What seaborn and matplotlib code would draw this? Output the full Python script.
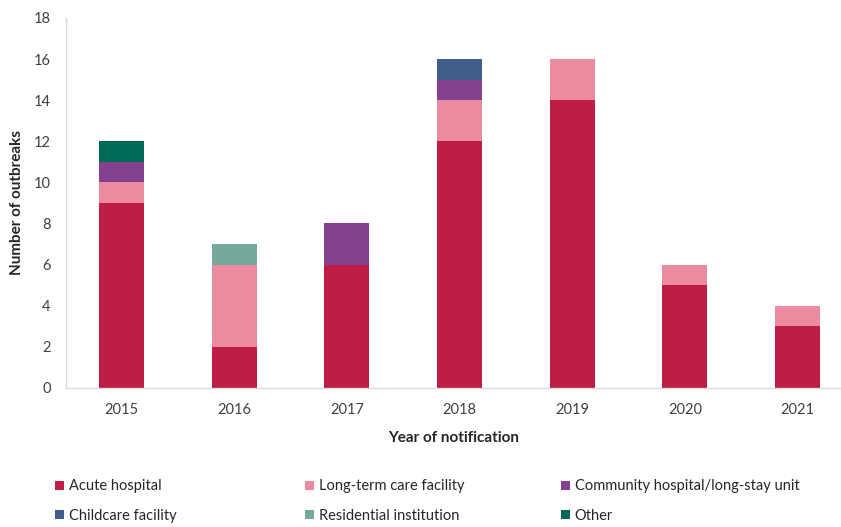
import matplotlib
matplotlib.use("Agg")
import matplotlib.pyplot as plt
import seaborn as sns
import pandas as pd
import numpy as np
from matplotlib.patches import Patch

years = ["2015", "2016", "2017", "2018", "2019", "2020", "2021"]
acute = [9, 2, 6, 12, 14, 5, 3]
longterm = [1, 4, 0, 2, 2, 1, 1]
community = [1, 0, 2, 1, 0, 0, 0]
childcare = [0, 0, 0, 1, 0, 0, 0]
residential = [0, 1, 0, 0, 0, 0, 0]
other = [1, 0, 0, 0, 0, 0, 0]

series_names = ["Acute hospital", "Long-term care facility", "Community hospital/long-stay unit",
                "Childcare facility", "Residential institution", "Other"]
series_vals = [acute, longterm, community, childcare, residential, other]
colors = ["#BE1E45", "#EC8BA0", "#83418F", "#3F5F8A", "#76A89C", "#006A56"]

sns.set_theme(style="white")
plt.rcParams['font.family'] = ['Lato', 'DejaVu Sans']

fig = plt.figure(figsize=(8.41, 5.27), dpi=100)
ax = fig.add_axes([66 / 841, 0.264, 1 - 66 / 841, 0.702])

bottom = np.zeros(len(years))
for name, vals, c in zip(series_names, series_vals, colors):
    df = pd.DataFrame({"year": years, "value": vals})
    sns.barplot(data=df, x="year", y="value", color=c, bottom=bottom, width=0.4,
                ax=ax, saturation=1, linewidth=0, errorbar=None)
    bottom = bottom + np.array(vals)

ax.set_ylim(0, 18)
ax.set_yticks(range(0, 19, 2))
ax.set_xlim(-0.493, 6.386)
ax.set_xlabel("Year of notification", fontsize=11, fontweight="bold", labelpad=10)
ax.set_ylabel("Number of outbreaks", fontsize=11, fontweight="bold", labelpad=7)
ax.tick_params(axis="both", labelsize=10.5, colors="#404040", length=0)
ax.tick_params(axis="x", pad=11)
ax.tick_params(axis="y", pad=11)
for s in ["top", "right"]:
    ax.spines[s].set_visible(False)
for s in ["left", "bottom"]:
    ax.spines[s].set_color("#D9D9D9")
    ax.spines[s].set_linewidth(1)

handles = [Patch(facecolor=c, edgecolor="none") for c in colors]
col_x = [55 / 841, 305 / 841, 561 / 841]
for i, x in enumerate(col_x):
    idx = [i, i + 3]
    fig.legend([handles[j] for j in idx], [series_names[j] for j in idx],
               loc="lower left", bbox_to_anchor=(x, 0.008), ncol=1,
               frameon=False, fontsize=10.5, handlelength=0.6, handleheight=0.6,
               handletextpad=0.35, labelspacing=1.05, borderpad=0, borderaxespad=0)

fig.savefig("out.png", dpi=100)
